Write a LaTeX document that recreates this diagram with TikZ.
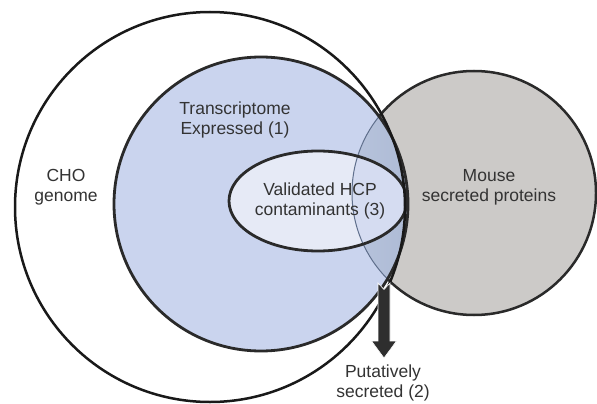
\documentclass[tikz,border=0pt]{standalone}
\usepackage{fontspec}
\setmainfont{Liberation Sans}
\begin{document}
\begin{tikzpicture}[x=1pt,y=-1pt,
  lbl/.style={text=txt,font=\fontsize{17.5}{20}\selectfont,align=center,inner sep=0pt},
  ]
\definecolor{txt}{HTML}{333333}
\definecolor{bluefill}{HTML}{CAD4EE}
\definecolor{grayfill}{HTML}{CCCAC8}
\definecolor{lensL}{HTML}{B7C3DC}
\definecolor{lensR}{HTML}{8FA0BE}
\definecolor{ellfill}{HTML}{E6EAF6}
\definecolor{edge}{HTML}{2A2A2A}
\definecolor{thinarc}{HTML}{5F6F8C}
\definecolor{arrowc}{HTML}{2E2E2E}
\useasboundingbox (0,0) rectangle (597,404);
\fill[white] (0,0) rectangle (597,404);
% gray circle (mouse)
\fill[grayfill] (474,193) circle[radius=122];
\draw[edge,line width=2.5pt] (474,193) circle[radius=122];
% blue circle (transcriptome)
\fill[bluefill] (261,204) circle[radius=147];
% lens
\begin{scope}
  \clip (261,204) circle[radius=147];
  \shade[left color=lensL,right color=lensR] (474,193) circle[radius=122];
\end{scope}
% ellipse
\fill[ellfill] (318,201) ellipse[x radius=89,y radius=50];
\begin{scope}
  \clip (318,201) ellipse[x radius=89,y radius=50];
  \clip (474,193) circle[radius=122];
  \fill[bluefill,opacity=0.6] (261,204) circle[radius=147];
\end{scope}
% thin arc of gray circle inside blue
\begin{scope}
  \clip (261,204) circle[radius=147];
  \draw[thinarc,line width=1pt] (474,193) circle[radius=122];
\end{scope}
% outlines
\draw[edge,line width=2.8pt] (261,204) circle[radius=147];
\draw[edge,line width=2.8pt] (318,201) ellipse[x radius=89,y radius=50];
\draw[black!90,line width=2.5pt] (210,207) circle[radius=195];
% arrow
\coordinate (atail) at (384,283);
\coordinate (atip) at (384,358);
\fill[arrowc,draw=white,line width=0.6pt] (378,283) -- (384,289.5) -- (390,283) -- (390,341) -- (396.5,341) -- (atip) -- (371.5,341) -- (378,341) -- cycle;
% labels
\node[lbl] (cho) at (66,187) {CHO\\genome};
\node[lbl] (trans) at (235,120) {Transcriptome\\Expressed (1)};
\node[lbl] (hcp) at (320,201) {Validated HCP\\contaminants (3)};
\node[lbl] (mouse) at (489,187) {Mouse\\secreted proteins};
\node[lbl] (put) at (383,383) {Putatively\\secreted (2)};
\end{tikzpicture}
\end{document}
